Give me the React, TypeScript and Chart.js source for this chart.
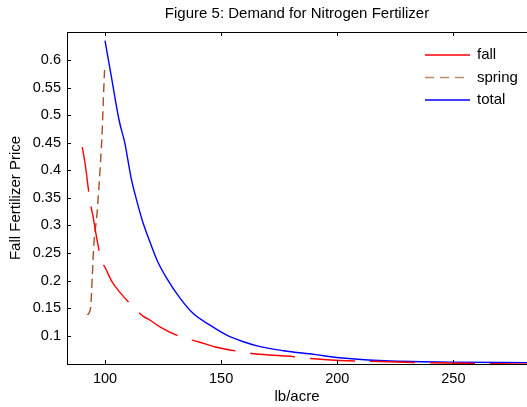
import React, { useEffect, useRef } from "react";
import { Chart, registerables } from "chart.js";

Chart.register(...registerables);

const chartTitle = "Figure 5: Demand for Nitrogen Fertilizer";
const xAxisLabel = "lb/acre";
const yAxisLabel = "Fall Fertilizer Price";

const xTickValues = [100, 150, 200, 250];
const yTickValues = [0.1, 0.15, 0.2, 0.25, 0.3, 0.35, 0.4, 0.45, 0.5, 0.55, 0.6];

const seriesNames = ["fall", "spring", "total"];

const fallX = [90.2, 91.5, 93.5, 94.9, 96.5, 98.5, 100, 103, 106.5, 111.5, 116.5, 119.4, 124, 133, 140.2, 148, 158.1, 165.3, 178.2, 190, 201, 218, 238, 282];
const fallY = [0.442, 0.41, 0.345, 0.315, 0.275, 0.236, 0.224, 0.198, 0.178, 0.155, 0.135, 0.128, 0.115, 0.097, 0.089, 0.079, 0.071, 0.0667, 0.063, 0.058, 0.055, 0.053, 0.051, 0.048];

const springX = [92.4, 93.8, 94.5, 95.2, 96.5, 98, 98.8, 99.3, 99.8];
const springY = [0.1376, 0.151, 0.206, 0.266, 0.319, 0.41, 0.473, 0.53, 0.582];

const totalX = [100, 102.6, 106.2, 108.4, 111.3, 113.4, 116.2, 119.6, 122.5, 126.6, 132.3, 138, 145.2, 152.4, 159.6, 166.8, 176.8, 190, 201, 218, 248, 282];
const totalY = [0.635, 0.573, 0.488, 0.452, 0.385, 0.349, 0.307, 0.267, 0.236, 0.204, 0.168, 0.14, 0.119, 0.101, 0.089, 0.08, 0.0727, 0.066, 0.06, 0.055, 0.052, 0.051];

const FONT = "'Liberation Sans', Arial, sans-serif";
const colors = ["#ff0000", "#a0522d", "#0000ff"];
const legendColors = ["#ff0000", "#c08a68", "#0000ff"];
const dashes = [[45, 15], [9, 5], []];
const legendDashes = [[], [9, 6], []];

const zip = (xs: number[], ys: number[]) => xs.map((x, i) => ({ x, y: ys[i] }));

const framePlugin = {
  id: "framePlugin",
  afterDraw(chart: any) {
    const ctx = chart.ctx;
    const { left, right, top, bottom } = chart.chartArea;
    const xs = chart.scales.x;
    const ys = chart.scales.y;
    ctx.save();
    ctx.strokeStyle = "#000";
    ctx.lineWidth = 1;
    ctx.beginPath();
    ctx.moveTo(left + 0.5, top);
    ctx.lineTo(left + 0.5, bottom + 1);
    ctx.moveTo(left, top + 0.5);
    ctx.lineTo(right, top + 0.5);
    ctx.moveTo(left, bottom + 0.5);
    ctx.lineTo(right, bottom + 0.5);
    xTickValues.forEach((v) => {
      const px = Math.round(xs.getPixelForValue(v)) + 0.5;
      ctx.moveTo(px, bottom);
      ctx.lineTo(px, bottom - 4);
      ctx.moveTo(px, top);
      ctx.lineTo(px, top + 4);
    });
    yTickValues.forEach((v) => {
      const py = Math.round(ys.getPixelForValue(v)) + 0.5;
      ctx.moveTo(left, py);
      ctx.lineTo(left + 4, py);
    });
    ctx.stroke();

    ctx.fillStyle = "#000";
    ctx.font = `15px ${FONT}`;
    ctx.textAlign = "center";
    ctx.textBaseline = "middle";
    ctx.fillText(chartTitle, (left + right) / 2, 14);
    ctx.fillText(xAxisLabel, (left + right) / 2, 397);
    ctx.save();
    ctx.translate(16, (top + bottom) / 2);
    ctx.rotate(-Math.PI / 2);
    ctx.fillText(yAxisLabel, 0, 0);
    ctx.restore();

    const rows = [55, 77.5, 100];
    ctx.textAlign = "left";
    seriesNames.forEach((name, i) => {
      ctx.beginPath();
      ctx.strokeStyle = legendColors[i];
      ctx.lineWidth = 1.3;
      ctx.setLineDash(legendDashes[i]);
      ctx.moveTo(425, rows[i]);
      ctx.lineTo(470, rows[i]);
      ctx.stroke();
      ctx.setLineDash([]);
      ctx.fillStyle = "#000";
      ctx.fillText(name, 477, rows[i]);
    });
    ctx.restore();
  },
};

export default function App() {
  const ref = useRef<HTMLCanvasElement>(null);
  useEffect(() => {
    if (!ref.current) return;
    const seriesData = [zip(fallX, fallY), zip(springX, springY), zip(totalX, totalY)];
    const chart = new Chart(ref.current, {
      type: "line",
      data: {
        datasets: seriesNames.map((name, i) => ({
          label: name,
          data: seriesData[i],
          borderColor: colors[i],
          borderWidth: 1.4,
          borderDash: dashes[i],
          pointRadius: 0,
          cubicInterpolationMode: "monotone",
          fill: false,
        })),
      },
      options: {
        animation: false,
        responsive: false,
        maintainAspectRatio: false,
        events: [],
        layout: { padding: { top: 32, left: 0, right: 0, bottom: 0 } },
        plugins: {
          legend: { display: false },
          title: { display: false },
          tooltip: { enabled: false },
        },
        scales: {
          x: {
            type: "linear",
            min: 83.63,
            max: 281.7,
            grid: { display: false, drawTicks: false },
            border: { display: false },
            afterBuildTicks: (s: any) => {
              s.ticks = xTickValues.map((v) => ({ value: v }));
            },
            afterFit: (s: any) => {
              s.height = 43;
            },
            ticks: {
              autoSkip: false,
              maxRotation: 0,
              padding: 6,
              color: "#000",
              font: { family: FONT, size: 14.5 },
              callback: (v: any) => String(v),
            },
          },
          y: {
            type: "linear",
            min: 0.0486,
            max: 0.6508,
            grid: { display: false, drawTicks: false },
            border: { display: false },
            afterBuildTicks: (s: any) => {
              s.ticks = yTickValues.map((v) => ({ value: v }));
            },
            afterFit: (s: any) => {
              s.width = 67;
            },
            ticks: {
              autoSkip: false,
              padding: 6,
              color: "#000",
              font: { family: FONT, size: 14.5 },
              callback: (v: any) => String(Number(Number(v).toFixed(2))),
            },
          },
        },
      },
      plugins: [framePlugin],
    });
    return () => chart.destroy();
  }, []);
  return (
    <div style={{ position: "fixed", left: 0, top: 0, width: 527, height: 407, background: "#fff" }}>
      <canvas ref={ref} width={527} height={407} style={{ display: "block" }} />
    </div>
  );
}
